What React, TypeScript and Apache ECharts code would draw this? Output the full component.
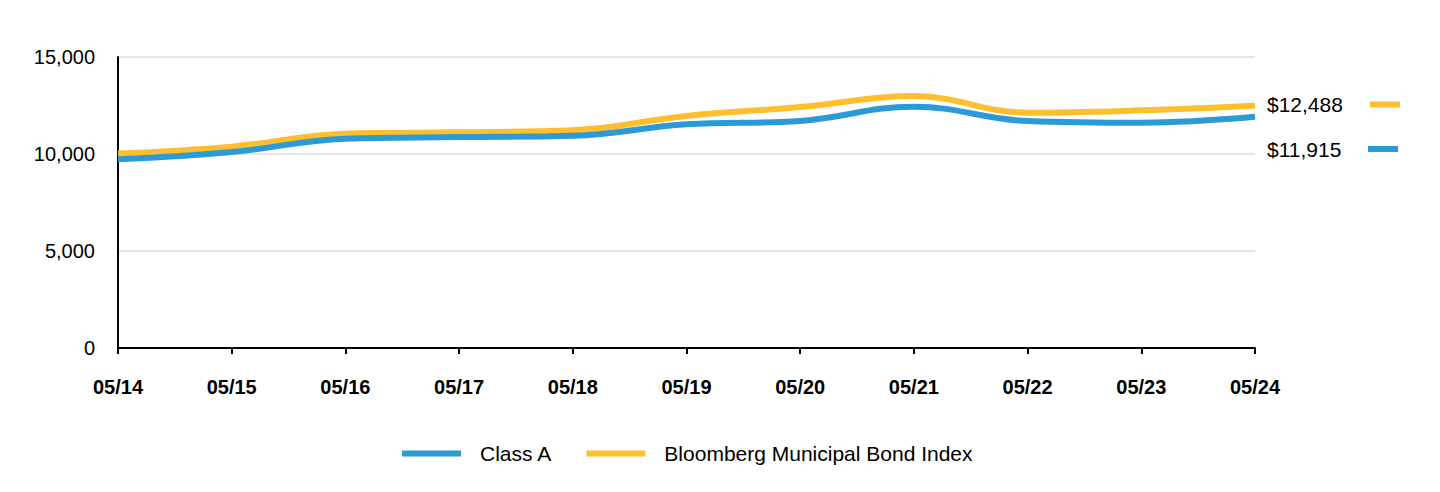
import React, { useEffect, useRef } from "react";
import * as echarts from "echarts";

const categories = ["05/14", "05/15", "05/16", "05/17", "05/18", "05/19", "05/20", "05/21", "05/22", "05/23", "05/24"];
const classA = [9725, 10100, 10790, 10870, 10940, 11530, 11700, 12440, 11700, 11610, 11915];
const bloomberg = [10020, 10380, 11050, 11120, 11220, 11960, 12420, 12990, 12130, 12250, 12488];
const seriesNames = ["Class A", "Bloomberg Municipal Bond Index"];
const colors = ["#2A9BD6", "#FDBF2D"];
const yTicks = [0, 5000, 10000, 15000];

const fmt = (v: number) => "$" + v.toLocaleString("en-US");

export default function App() {
  const ref = useRef<HTMLDivElement>(null);
  useEffect(() => {
    const chart = echarts.init(ref.current!, null, { renderer: "svg" });
    const font = "Liberation Sans, Arial, sans-serif";
    chart.setOption({
      animation: false,
      textStyle: { fontFamily: font },
      grid: { left: 118, right: 185, top: 57, bottom: 144 },
      legend: {
        top: 438,
        left: 397,
        icon: "rect",
        itemWidth: 59,
        itemHeight: 6,
        itemGap: 34,
        textStyle: { fontSize: 21, color: "#000", fontFamily: font, padding: [0, 0, 0, 14] },
        data: seriesNames,
      },
      xAxis: {
        type: "category",
        data: categories,
        boundaryGap: false,
        axisLine: { lineStyle: { color: "#000", width: 2 } },
        axisTick: { show: true, length: 6, lineStyle: { color: "#000", width: 2 } },
        axisLabel: { fontSize: 20, fontWeight: "bold", color: "#000", margin: 29, fontFamily: font },
      },
      yAxis: {
        type: "value",
        min: yTicks[0],
        max: yTicks[yTicks.length - 1],
        interval: 5000,
        axisLine: { show: true, lineStyle: { color: "#000", width: 2 } },
        axisTick: { show: false },
        splitLine: { lineStyle: { color: "#dddddd", width: 1.5 } },
        axisLabel: {
          fontSize: 20,
          color: "#000",
          margin: 23,
          fontFamily: font,
          formatter: (v: number) => v.toLocaleString("en-US"),
        },
      },
      series: [
        {
          name: seriesNames[0],
          type: "line",
          data: classA,
          smooth: 0.4,
          showSymbol: false,
          color: colors[0],
          lineStyle: { width: 6, color: colors[0] },
          z: 3,
        },
        {
          name: seriesNames[1],
          type: "line",
          data: bloomberg,
          smooth: 0.4,
          showSymbol: false,
          color: colors[1],
          lineStyle: { width: 6, color: colors[1] },
          z: 2,
        },
      ],
      graphic: [
        {
          type: "text",
          x: 1267,
          y: 104,
          style: { text: fmt(bloomberg[bloomberg.length - 1]), fontSize: 21, fill: "#000", fontFamily: font, verticalAlign: "middle" },
        },
        {
          type: "rect",
          shape: { x: 1370, y: 101.5, width: 30, height: 6 },
          style: { fill: colors[1] },
        },
        {
          type: "text",
          x: 1267,
          y: 149,
          style: { text: fmt(classA[classA.length - 1]), fontSize: 21, fill: "#000", fontFamily: font, verticalAlign: "middle" },
        },
        {
          type: "rect",
          shape: { x: 1368, y: 146, width: 30, height: 6 },
          style: { fill: colors[0] },
        },
      ],
    });
    return () => chart.dispose();
  }, []);
  return <div ref={ref} style={{ width: 1440, height: 492, position: "absolute", left: 0, top: 0 }} />;
}
